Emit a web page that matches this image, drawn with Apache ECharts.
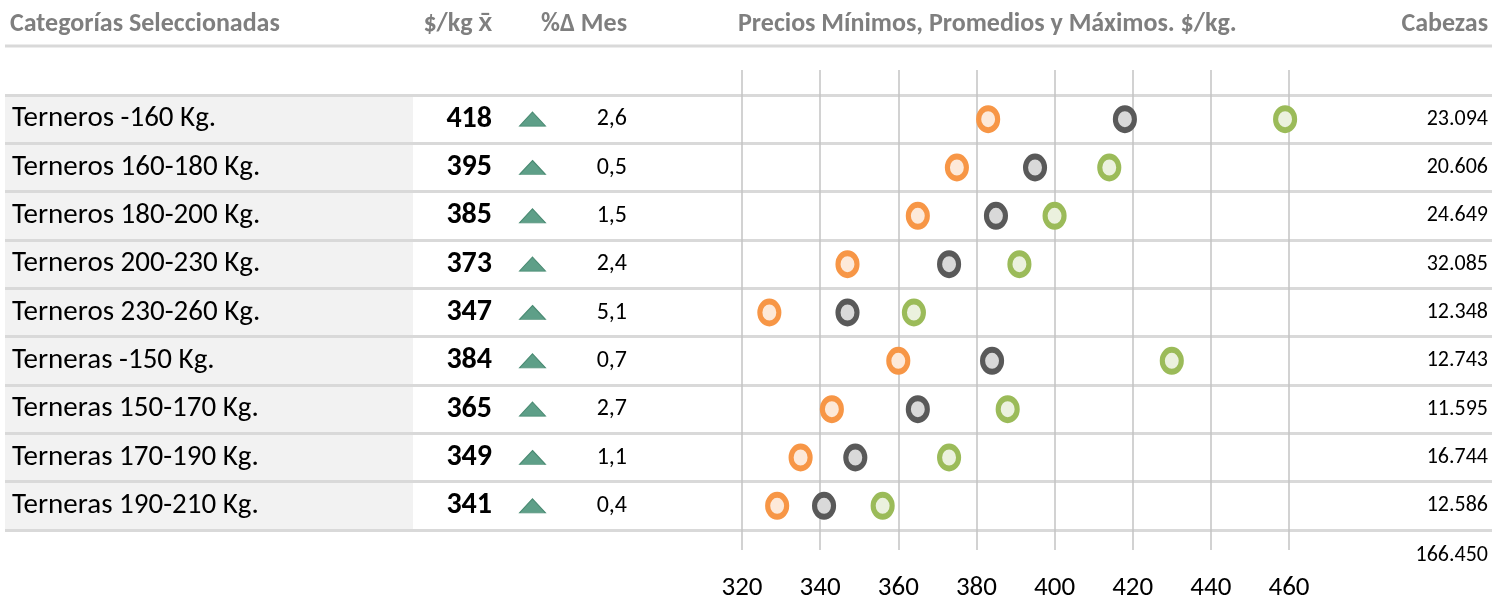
<!DOCTYPE html>
<html>
<head>
<meta charset="utf-8">
<script src="https://cdn.jsdelivr.net/npm/echarts@6/dist/echarts.min.js"></script>
<style>
html,body{margin:0;padding:0;background:#fff;}
#chart{width:1492px;height:602px;}
</style>
</head>
<body>
<div id="chart"></div>
<script>
const categories = ['Terneros -160 Kg.','Terneros 160-180 Kg.','Terneros 180-200 Kg.','Terneros 200-230 Kg.','Terneros 230-260 Kg.','Terneras -150 Kg.','Terneras 150-170 Kg.','Terneras 170-190 Kg.','Terneras 190-210 Kg.'];
const avgPrice = [418, 395, 385, 373, 347, 384, 365, 349, 341];
const minPrice = [383, 375, 365, 347, 327, 360, 343, 335, 329];
const maxPrice = [459, 414, 400, 391, 364, 430, 388, 373, 356];
const pctChange = [2.6, 0.5, 1.5, 2.4, 5.1, 0.7, 2.7, 1.1, 0.4];
const direction = ['up','up','up','up','up','up','up','up','up'];
const cabezas = [23094, 20606, 24649, 32085, 12348, 12743, 11595, 16744, 12586];
const xTicks = [320, 340, 360, 380, 400, 420, 440, 460];
const headers = ['Categorías Seleccionadas', '$/kg x̄', '%Δ Mes', 'Precios Mínimos, Promedios y Máximos. $/kg.', 'Cabezas'];

const FONT = 'Carlito, Lato, sans-serif';
const fmtThousands = n => String(n).replace(/\B(?=(\d{3})+(?!\d))/g, '.');
const fmtPct = v => v.toFixed(1).replace('.', ',');
const totalCabezas = cabezas.reduce((a, b) => a + b, 0);

const chart = echarts.init(document.getElementById('chart'), null, {renderer: 'canvas'});

const rowTop = 95, rowBottom = 72;
const plotLeft = 742, plotRight = 203;

function labelAxis(grid, pos, margin, align, fmt, style) {
  return {
    type: 'category', gridIndex: grid, data: categories, inverse: true, position: pos,
    axisLine: {show: false}, axisTick: {show: false}, splitLine: {show: false},
    axisLabel: Object.assign({show: true, margin: margin, align: align, fontFamily: FONT, color: '#000',
      formatter: fmt}, style)
  };
}

const headerStyle = {fontFamily: FONT, fontSize: 26, fontWeight: 'bold', color: '#7f7f7f'};

const option = {
  backgroundColor: '#fff',
  animation: false,
  title: [
    {text: headers[0], left: 10, top: 11, padding: 0, textStyle: headerStyle},
    {text: headers[1], right: 1000, top: 11, padding: 0, textStyle: headerStyle},
    {text: headers[2], right: 865, top: 11, padding: 0, textStyle: headerStyle},
    {text: headers[3], left: 738, top: 11, padding: 0, textStyle: headerStyle},
    {text: headers[4], right: 4, top: 11, padding: 0, textStyle: headerStyle},
    {text: fmtThousands(totalCabezas), right: 4, top: 544, padding: 0, textStyle: {fontFamily: FONT, fontSize: 22, fontWeight: 'normal', color: '#000'}}
  ],
  graphic: [
    {type: 'line', shape: {x1: 5, y1: 46, x2: 1492, y2: 46}, style: {stroke: '#d9d9d9', lineWidth: 3}, z: 0}
  ],
  grid: [
    {left: 5, right: 0, top: rowTop, bottom: rowBottom},
    {left: 5, width: 408, top: rowTop, bottom: rowBottom, show: true, backgroundColor: '#f2f2f2', borderWidth: 0},
    {left: plotLeft, right: plotRight, top: rowTop, bottom: rowBottom},
    {left: plotLeft, right: plotRight, top: 70, bottom: 50},
    {left: 519, width: 27, top: rowTop, bottom: rowBottom}
  ],
  xAxis: [
    {type: 'value', gridIndex: 0, min: 0, max: 1, show: false},
    {type: 'value', gridIndex: 1, min: 0, max: 1, show: false},
    {type: 'value', gridIndex: 2, min: xTicks[0], max: xTicks[xTicks.length - 1], show: false},
    {type: 'value', gridIndex: 3, min: xTicks[0], max: xTicks[xTicks.length - 1], interval: 20,
      axisLine: {show: false}, axisTick: {show: false},
      splitLine: {show: true, lineStyle: {color: '#c3c3c3', width: 1.5}},
      axisLabel: {fontFamily: FONT, fontSize: 27, color: '#000', margin: 25}},
    {type: 'value', gridIndex: 4, min: -1, max: 1, show: false}
  ],
  yAxis: [
    {type: 'category', gridIndex: 0, data: categories, inverse: true,
      axisLine: {show: false}, axisTick: {show: false}, axisLabel: {show: false},
      splitLine: {show: true, interval: 0, lineStyle: {color: '#d9d9d9', width: 3}}},
    {type: 'category', gridIndex: 1, data: categories, inverse: true, show: false},
    labelAxis(2, 'left', 730, 'left', v => v, {fontSize: 29}),
    labelAxis(2, 'left', 250, 'right', (v, i) => String(avgPrice[i]), {fontSize: 30, fontWeight: 'bold'}),
    labelAxis(2, 'left', 115, 'right', (v, i) => fmtPct(pctChange[i]), {fontSize: 24}),
    labelAxis(2, 'right', 199, 'right', (v, i) => fmtThousands(cabezas[i]), {fontSize: 22}),
    {type: 'value', gridIndex: 3, min: 0, max: 1, show: false},
    {type: 'category', gridIndex: 4, data: categories, inverse: true, show: false}
  ],
  series: [
    {type: 'scatter', xAxisIndex: 3, yAxisIndex: 6, data: [], silent: true},
    {type: 'scatter', name: 'Mínimo', xAxisIndex: 2, yAxisIndex: 2, symbol: 'circle', symbolSize: [19, 22],
      itemStyle: {color: '#fde9d9', borderColor: '#f79646', borderWidth: 5.5, opacity: 1},
      data: minPrice.map((v, i) => [v, i]), z: 5},
    {type: 'scatter', name: 'Promedio', xAxisIndex: 2, yAxisIndex: 2, symbol: 'circle', symbolSize: [19, 22],
      itemStyle: {color: '#d9d9d9', borderColor: '#595959', borderWidth: 5.5, opacity: 1},
      data: avgPrice.map((v, i) => [v, i]), z: 5},
    {type: 'scatter', name: 'Máximo', xAxisIndex: 2, yAxisIndex: 2, symbol: 'circle', symbolSize: [19, 22],
      itemStyle: {color: '#ebf1de', borderColor: '#9bbb59', borderWidth: 5.5, opacity: 1},
      data: maxPrice.map((v, i) => [v, i]), z: 5},
    {type: 'scatter', name: 'Tendencia', xAxisIndex: 4, yAxisIndex: 7,
      symbol: (val, params) => direction[params.dataIndex] === 'up' ? 'triangle' : 'path://M0,0L2,0L1,1Z',
      symbolSize: [26, 14],
      itemStyle: {color: '#5e9f88', borderColor: '#4a8b73', borderWidth: 1, opacity: 1},
      data: direction.map((d, i) => [0, i]), z: 5}
  ]
};
chart.setOption(option);
</script>
</body>
</html>
